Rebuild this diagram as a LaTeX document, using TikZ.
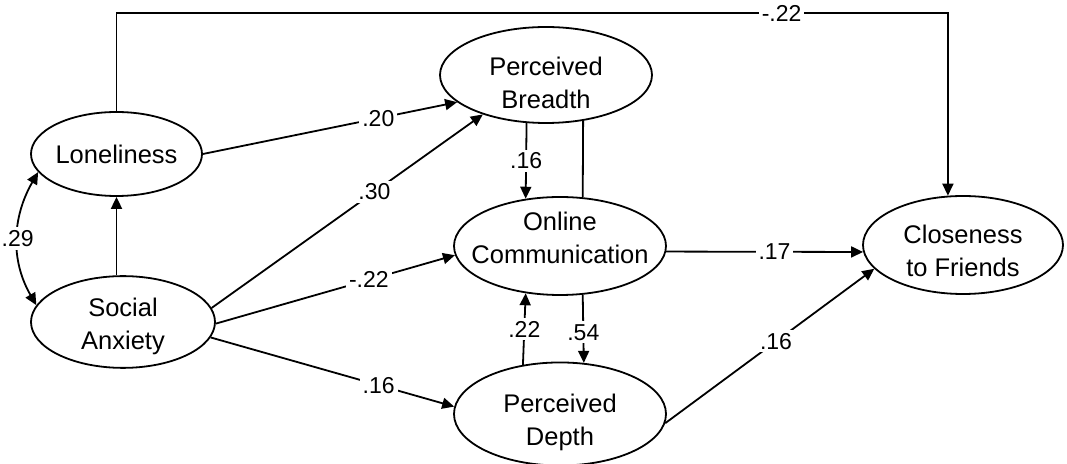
\documentclass[tikz,border=0pt]{standalone}
\usepackage{fontspec}
\setmainfont{Liberation Sans}
\usepackage{tikz}
\usetikzlibrary{arrows.meta,shapes}
\newcommand{\tallline}[1]{\rule{0pt}{#1}}
\newcommand{\deepline}[1]{\rule[-#1]{0pt}{0pt}}
\tikzstyle{link}=[
	line width=0.9pt,
	draw=black
]
\tikzstyle{arc}=[
	link,
	-{Triangle[length=6pt,width=5.5pt]}
]
\tikzstyle{twoway}=[
	link,
	{Triangle[length=6pt,width=5.5pt]}-{Triangle[length=6pt,width=5.5pt]}
]
\tikzstyle{latent}=[
	ellipse,
	link,
	inner xsep=-12pt,
	inner ysep=0pt,
	align=center,
	font=\fontsize{12.75}{16.5}\selectfont
]
\tikzstyle{coef}=[
	fill=white,
	inner sep=1.5pt,
	font=\fontsize{11.5}{13}\selectfont
]

\begin{document}
\begin{tikzpicture}[x=0.5pt, y=-0.5pt]
\useasboundingbox (0,0) rectangle (1067,464);

\node[latent, minimum width=85.5pt, minimum height=42pt] at (116.5,154) (lon) {Loneliness};
\node[latent, minimum width=92pt, minimum height=41pt] at (123,322) (sa) {\tallline{13.3pt}Social\\Anxiety};
\node[latent, minimum width=106pt, minimum height=48pt] at (546,75) (pb) {\tallline{17.3pt}Perceived\\Breadth};
\node[latent, minimum width=106pt, minimum height=49pt] at (560,246) (oc) {Online\\Communication\deepline{8pt}};
\node[latent, minimum width=106pt, minimum height=48pt] at (560,414) (pd) {\tallline{17.3pt}Perceived\\Depth};
\node[latent, minimum width=100pt, minimum height=49pt] at (963,245) (cf) {\tallline{15.3pt}Closeness\\to Friends};
\coordinate (top) at (0,13);

% predictors
\draw[twoway] (lon.193) to[out=240, in=120] node[coef] {.29} (sa.169);
\draw[arc] (lon.south |- sa.north) -- (lon.south);
\draw[arc] (lon.east) -- node[coef, pos=0.69] {.20} (pb.197);
\draw[arc] (sa.9) -- node[coef, pos=0.6] {.30} (pb.212);
\draw[arc] (sa.-1) -- node[coef, pos=0.64] {-.22} (oc.185);
\draw[arc] (sa.-10) -- node[coef, pos=0.69] {.16} (pd.176);

% mediators
\draw[arc] (pb.248) -- node[coef] {.16} (oc.126);
\draw[link] (pb.-51) -- (oc.65);
\draw[arc] (pd.127) -- node[coef] {.22} (oc.234);
\draw[arc] (oc.-65) -- node[coef, pos=0.55] {.54} (pd.65);

% outcome
\draw[arc] (oc.-3) -- node[coef, pos=0.55] {.17} (cf.184);
\draw[arc] (pd.-5) -- node[coef, pos=0.53] {.16} (cf.195);
\draw[arc] (lon.north) -- (lon.north |- top) -- node[coef, pos=0.8] {-.22} (cf.107 |- top) -- (cf.107);
\end{tikzpicture}
\end{document}
